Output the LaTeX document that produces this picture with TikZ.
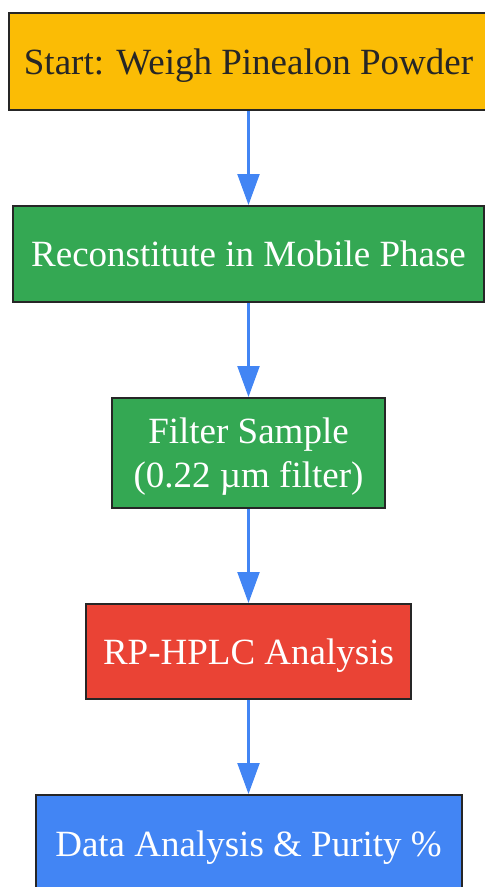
\documentclass[tikz,border=0pt]{standalone}
\usepackage{fontspec}
\setmainfont{Liberation Serif}
\usepackage{xcolor}
\usetikzlibrary{positioning,arrows.meta}

\definecolor{gyellow}{HTML}{FBBC05}
\definecolor{ggreen}{HTML}{34A853}
\definecolor{gred}{HTML}{EA4335}
\definecolor{gblue}{HTML}{4285F4}

\begin{document}
\begin{tikzpicture}[
    x=1pt, y=1pt,
    node distance=94pt,
    stepbox/.style={draw=black!85, line width=2pt, rectangle, inner sep=0pt, align=center, text=white, text depth=-5pt, font=\fontsize{37}{44}\selectfont},
    flow/.style={draw=gblue, line width=2.2pt, -{Triangle[length=31pt,width=22pt]}}
]
    \useasboundingbox (0,0) rectangle (485,-887);
    \node [stepbox, fill=gyellow, text=black!85, minimum width=479pt, minimum height=97pt] (weigh) at (248.5,-61.5) {Start: Weigh Pinealon Powder};
    \node [stepbox, below=of weigh, fill=ggreen, minimum width=471pt, minimum height=96pt] (recon) {Reconstitute in Mobile Phase};
    \node [stepbox, below=of recon, fill=ggreen, minimum width=273pt, minimum height=110pt] (filter) {Filter Sample\\(0.22 µm filter)};
    \node [stepbox, below=of filter, fill=gred, minimum width=325pt, minimum height=95pt] (hplc) {RP-HPLC Analysis};
    \node [stepbox, below=of hplc, fill=gblue, minimum width=426pt, minimum height=97pt] (purity) {Data Analysis \& Purity \%};

    \draw [flow] (weigh) -- (recon);
    \draw [flow] (recon) -- (filter);
    \draw [flow] (filter) -- (hplc);
    \draw [flow] (hplc) -- (purity);
\end{tikzpicture}
\end{document}
